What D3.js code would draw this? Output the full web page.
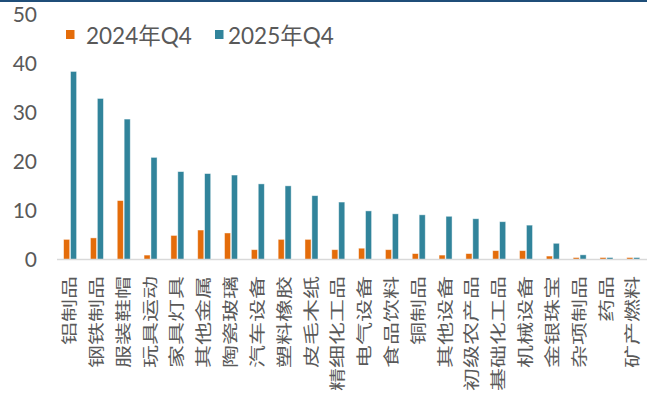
<!DOCTYPE html>
<html><head><meta charset="utf-8">
<script src="https://cdn.jsdelivr.net/npm/d3@7"></script>
<style>
html,body{margin:0;padding:0;background:#fff;}
svg{display:block;}
text{font-family:Lato,"Noto Sans CJK SC",sans-serif;fill:#595959;}
</style></head>
<body>
<svg id="c" width="647" height="397"></svg>
<script>
const categories = ["铝制品","钢铁制品","服装鞋帽","玩具运动","家具灯具","其他金属","陶瓷玻璃","汽车设备","塑料橡胶","皮毛木纸","精细化工品","电气设备","食品饮料","铜制品","其他设备","初级农产品","基础化工品","机械设备","金银珠宝","杂项制品","药品","矿产燃料"];
const seriesNames = ["2024年Q4","2025年Q4"];
const values2024 = [4.1,4.4,12.0,0.9,4.9,6.0,5.4,2.0,4.1,4.1,2.0,2.3,2.0,1.2,0.9,1.2,1.8,1.8,0.7,0.4,0.4,0.4];
const values2025 = [38.3,32.8,28.6,20.8,17.9,17.5,17.2,15.4,15.0,13.0,11.7,9.9,9.3,9.1,8.8,8.3,7.7,7.0,3.3,0.95,0.4,0.4];
const yTicks = [0,10,20,30,40,50];
const colors = ["#E46C0A","#31849B"];

const svg = d3.select("#c");

// top border
svg.append("rect").attr("x",0).attr("y",0).attr("width",647).attr("height",2).attr("fill","#1F4E79");

const x = d3.scaleBand().domain(categories).range([57,647]).paddingInner(0).paddingOuter(0);
const xs = d3.scaleBand().domain(seriesNames).range([-6.8,6.2]).paddingInner(0.12);
const y = d3.scaleLinear().domain([0,50]).range([259.5,14]);

// y axis labels
const yAxis = d3.axisLeft(y).tickValues(yTicks).tickSize(0).tickPadding(0);
const ya = svg.append("g").attr("transform","translate(37,0)").call(yAxis);
ya.select(".domain").remove();
ya.selectAll("text").attr("font-size",21).attr("fill","#595959")
  .style("font-family","Lato,'Noto Sans CJK SC',sans-serif").attr("dy","0.35em").attr("x",0);

// bars
const data = [values2024, values2025];
data.forEach((vals,si)=>{
  svg.append("g").selectAll("rect").data(categories).join("rect")
    .attr("x",c=>x(c)+x.bandwidth()/2+xs(seriesNames[si]))
    .attr("width",xs.bandwidth())
    .attr("y",(c,i)=>y(vals[i]))
    .attr("height",(c,i)=>y(0)-y(vals[i]))
    .attr("fill",colors[si])
    .attr("stroke","#ffffff").attr("stroke-opacity",0.55).attr("stroke-width",0.8);
});

// baseline
svg.append("line").attr("x1",57).attr("x2",647).attr("y1",y(0)).attr("y2",y(0))
  .attr("stroke","#D9D9D9").attr("stroke-width",1.5);

// x labels
const xl = svg.append("g").selectAll("g").data(categories).join("g")
  .attr("transform",c=>`translate(${x(c)+x.bandwidth()/2-2},276)`);
xl.append("text").text(c=>c)
  .attr("transform","scale(0.68,1) rotate(-90)")
  .attr("text-anchor","end").attr("dominant-baseline","central")
  .attr("font-size",23).attr("fill","#666")
  .style("font-family","'Noto Sans CJK SC',sans-serif");

// legend
const legX = [66,215];
const legTX = [86,228];
seriesNames.forEach((s,i)=>{
  svg.append("rect").attr("x",legX[i]).attr("y",30).attr("width",8.5).attr("height",9).attr("fill",colors[i]);
  svg.append("text").attr("x",legTX[i]).attr("y",35).attr("dominant-baseline","central")
    .attr("font-size",22.5).text(s);
});
</script>
</body></html>
